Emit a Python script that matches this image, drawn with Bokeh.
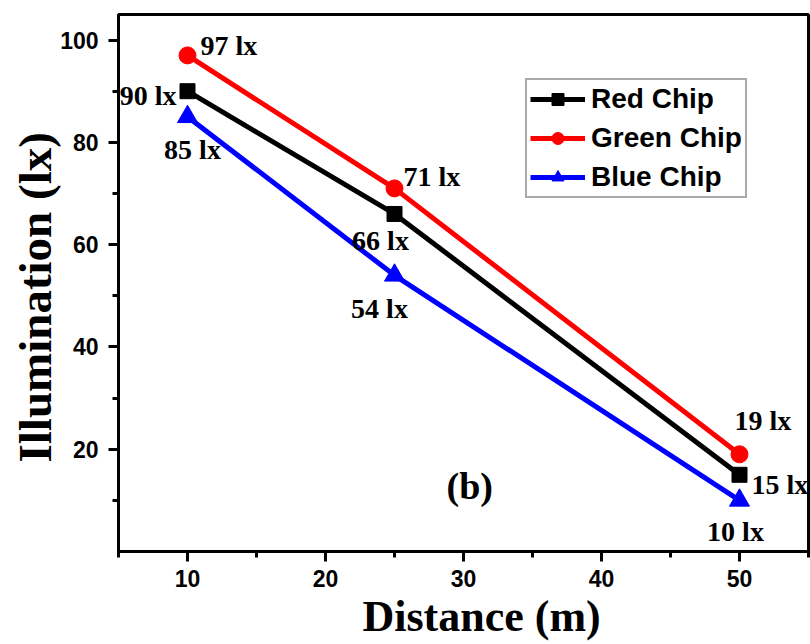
from bokeh.plotting import figure
from bokeh.models import ColumnDataSource, Legend, LegendItem, Range1d, FixedTicker, Title
from bokeh.core.properties import value
from bokeh.embed import file_html
from bokeh.resources import INLINE

# Illumination measured at each distance for the three LED chips
distance = [10, 25, 50]
red_chip = [90, 66, 15]
green_chip = [97, 71, 19]
blue_chip = [85, 54, 10]

x_ticks = [10, 20, 30, 40, 50]
y_ticks = [20, 40, 60, 80, 100]

SERIF = "Liberation Serif"
SANS = "Liberation Sans"

p = figure(
    width=810, height=644,
    x_range=Range1d(5, 55), y_range=Range1d(0, 105),
    output_backend="svg", toolbar_location=None,
    min_border_left=118, min_border_right=2,
    min_border_top=14, min_border_bottom=93,
)
p.grid.visible = False
p.outline_line_color = "black"
p.outline_line_width = 3
p.background_fill_color = "white"
p.border_fill_color = "white"

for ax in (p.xaxis[0], p.yaxis[0]):
    ax.axis_line_width = 3
    ax.major_tick_line_width = 3
    ax.minor_tick_line_width = 3
    ax.major_tick_in = 0
    ax.major_tick_out = 10
    ax.minor_tick_in = 0
    ax.minor_tick_out = 6
    ax.major_label_text_font = SANS
    ax.major_label_text_font_style = "bold"
    ax.major_label_text_font_size = "23px"
    ax.major_label_text_color = "black"

p.xaxis.ticker = FixedTicker(ticks=x_ticks, minor_ticks=[5, 15, 25, 35, 45, 55])
p.yaxis.ticker = FixedTicker(ticks=y_ticks, minor_ticks=[10, 30, 50, 70, 90])
p.xaxis.major_label_standoff = 8
p.yaxis.major_label_standoff = 10

# axis titles as side titles, shifted along the frame edge
x_title = Title(text="Distance (m)", align="left", offset=244, standoff=0,
                text_font=SERIF, text_font_style="bold", text_font_size="44px",
                text_color="black")
y_title = Title(text="Illumination (lx)", align="left", offset=89, standoff=-7,
                text_font=SERIF, text_font_style="bold", text_font_size="47px",
                text_color="black")
p.add_layout(x_title, "below")
p.add_layout(y_title, "left")

series = [
    ("Red Chip", red_chip, "black", "square", 15),
    ("Green Chip", green_chip, "red", "circle", 17),
    ("Blue Chip", blue_chip, "blue", "triangle", 20),
]

items = []
for name, vals, color, marker, size in series:
    src = ColumnDataSource(dict(x=distance, y=vals))
    ln = p.line("x", "y", source=src, line_color=color, line_width=5)
    mk = p.scatter("x", "y", source=src, marker=marker, size=size,
                   fill_color=color, line_color=color)
    items.append(LegendItem(label=name, renderers=[ln, mk]))

# value labels next to each point (pixel offsets, y downward), text from the values
label_offsets = {
    "Red Chip": [(-11, 4, "right"), (-14, 27, "center"), (12, 10, "left")],
    "Green Chip": [(13, -10, "left"), (9, -12, "left"), (-5, -34, "left")],
    "Blue Chip": [(5, 33, "center"), (-15, 33, "center"), (-4, 31, "center")],
}
for name, vals, color, marker, size in series:
    offs = label_offsets[name]
    src = ColumnDataSource(dict(
        x=distance, y=vals,
        text=[f"{v} lx" for v in vals],
        dx=[o[0] for o in offs], dy=[o[1] for o in offs],
        align=[o[2] for o in offs],
    ))
    p.text("x", "y", text="text", source=src, x_offset="dx", y_offset="dy",
           text_align="align", text_baseline="middle",
           text_font=value(SERIF), text_font_style="bold", text_font_size="28px",
           text_color="black")

p.text(x=[30.45], y=[12.8], text=["(b)"], text_align="center", text_baseline="middle",
       text_font=value(SERIF), text_font_style="bold", text_font_size="38px",
       text_color="black")

legend = Legend(items=items, location=(407, 353))
legend.label_text_font = SANS
legend.label_text_font_style = "bold"
legend.label_text_font_size = "28px"
legend.label_text_color = "black"
legend.glyph_width = 55
legend.glyph_height = 30
legend.label_height = 30
legend.spacing = 7
legend.padding = 3
legend.margin = 0
legend.label_standoff = 6
legend.border_line_color = "#555555"
legend.border_line_width = 2
legend.background_fill_alpha = 1
p.add_layout(legend)

open("out.html", "w").write(file_html(p, INLINE))
